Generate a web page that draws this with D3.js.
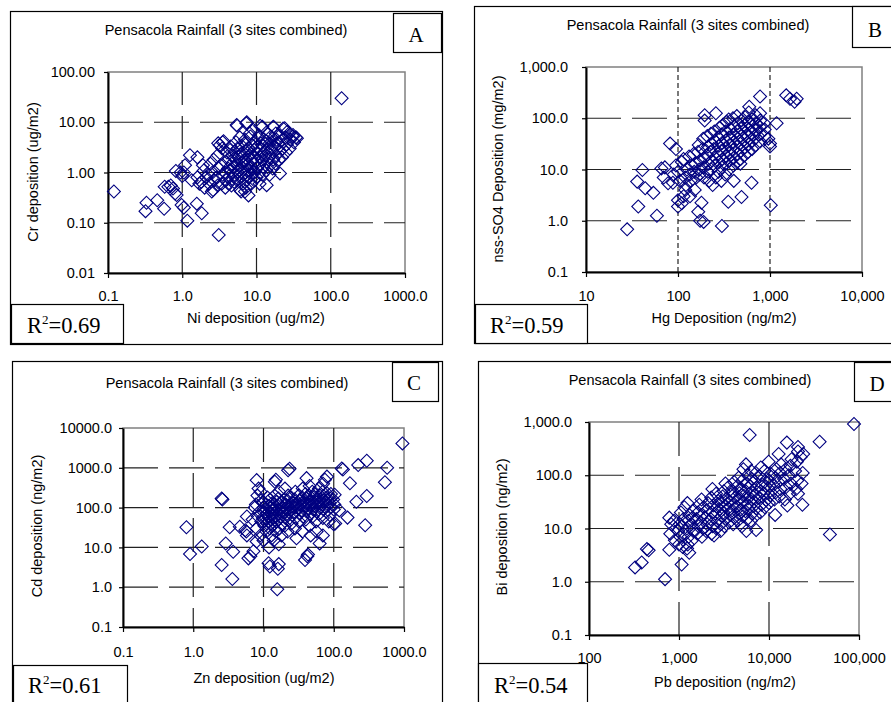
<!DOCTYPE html>
<html>
<head>
<meta charset="utf-8">
<script src="https://cdn.jsdelivr.net/npm/d3@7"></script>
<style>
  body { margin: 0; background: #fff; }
  svg { display: block; }
</style>
</head>
<body>
<svg id="chart" width="891" height="702"></svg>
<script>
// ---- Data: deposition pairs per panel, [x, y] ----
const niCr = [
  [140,30],[0.12,0.42],[0.32,0.17],[0.33,0.25],[0.46,0.28],[0.57,0.19],[1.17,0.11],[3.1,0.057],
  [1.83,0.155],[0.98,0.225],[1.05,0.2],[1.57,0.24],[0.65,0.52],[0.75,0.48],[0.84,0.355],[0.8,0.38],
  [0.82,1.07],[0.95,1.0],[1.05,1.0],[1.09,1.4],[1.27,2.2],[1.6,2.0],[1.34,0.7],[1.8,0.65],[1.9,1.4],
  [3.05,3.8],[3.5,4.0],[5.4,8.8],[7.4,10],[12,8.1],[16.8,8.1],[24,7.6],[31,5.6],[34,5.0],
  [20.7,0.96],[13.7,0.56],[7.8,0.35],[7.0,0.42],[6.2,0.42],[2.5,0.42],[0.58,0.52],[0.7,0.55],
  [1.6,0.8],[1.7,0.6],[1.0,0.85],
  [2.0,0.5],[2.1,0.8],[1.95,1.1],[2.3,0.6],[2.25,0.9],[2.4,1.5],
  [2.6,0.45],[2.7,0.7],[2.55,1.0],[2.65,1.8],[3.0,0.55],[2.9,0.8],[3.1,1.2],[3.0,2.2],[3.2,3.5],
  [3.4,0.6],[3.5,0.9],[3.3,1.4],[3.45,3.0],[3.6,4.2],[3.8,0.5],[3.9,0.7],[3.75,1.0],[3.85,1.6],[4.0,2.5],
  [4.2,0.6],[4.3,0.85],[4.15,1.2],[4.25,1.9],[4.4,2.8],[4.6,0.55],[4.7,0.75],[4.55,1.1],[4.65,1.5],[4.8,2.2],[4.5,3.3],
  [5.0,0.65],[5.1,0.9],[4.95,1.3],[5.2,1.8],[5.05,2.6],[5.3,4.0],[5.5,0.7],[5.6,1.0],[5.45,1.4],[5.7,2.0],[5.55,3.0],[5.5,8.5],
  [6.0,0.45],[6.1,0.8],[5.9,1.1],[6.2,1.6],[6.05,2.3],[6.3,3.4],[5.95,5.0],
  [6.6,0.6],[6.7,0.9],[6.5,1.25],[6.8,1.7],[6.6,2.5],[6.9,3.8],
  [7.2,0.5],[7.3,0.7],[7.1,1.0],[7.4,1.4],[7.2,1.9],[7.5,2.8],[7.0,4.5],[7.3,9.5],
  [7.8,0.8],[7.9,1.1],[7.7,1.5],[8.0,2.1],[7.8,3.1],[8.1,6.0],
  [8.5,0.6],[8.6,0.9],[8.4,1.3],[8.7,1.8],[8.5,2.4],[8.8,3.5],[8.3,5.2],
  [9.3,0.7],[9.4,1.0],[9.2,1.5],[9.5,2.0],[9.3,2.8],[9.6,4.0],[9.1,7.0],
  [10,0.8],[10.2,1.2],[9.9,1.7],[10.4,2.3],[10.1,3.2],[10.5,4.8],
  [11,0.6],[11.2,1.0],[10.9,1.4],[11.4,2.0],[11.1,2.7],[11.5,3.8],[10.8,5.5],[11.2,8.5],
  [12,0.9],[12.3,1.3],[11.8,1.8],[12.5,2.5],[12.1,3.4],[12.6,4.6],
  [13.5,1.1],[13.8,1.6],[13.2,2.2],[14,3.0],[13.6,4.2],[14.2,6.0],
  [15,0.9],[15.3,1.4],[14.8,2.0],[15.5,2.8],[15.1,3.8],[15.6,5.2],
  [16.5,1.2],[16.8,1.8],[16.2,2.6],[17,3.5],[16.6,4.8],[17,8.0],
  [18,1.5],[18.4,2.2],[17.8,3.2],[18.6,4.5],[18.2,6.0],
  [20,1.8],[20.5,2.6],[19.6,3.8],[20.8,5.5],
  [22,2.0],[22.5,3.0],[21.6,4.2],[22.8,7.5],[25,2.5],[25.5,3.6],[24.5,5.0],[26,6.5],
  [28,3.0],[28.5,4.5],[27.5,6.0],[32,4.0],[31,5.2],[35,4.8]
];

const hgSO4 = [
  [28,0.68],[37,1.9],[59,1.25],[36,5.8],[44,4.3],[54,3.5],[41,9.8],[66,10.5],[82,32],[78,5.4],
  [95,25],[100,1.9],[110,2.2],[135,3.0],[120,4.0],[166,1.5],[180,2.25],[174,1.0],[190,0.95],
  [300,0.79],[352,2.35],[490,2.9],[630,5.5],[1020,2.0],[780,265],[595,168],
  [1500,280],[1650,240],[1850,210],[1950,240],[1180,80],[1000,32],[1000,28],[960,40],[780,125],
  [195,115],[258,125],[195,90],[70,7],[72,11],[88,5.5],[100,2.5],[115,3.0],
  [90,8],[95,12],[105,6],[100,9],[110,14],[120,7],[125,10],[115,16],[122,5],
  [135,8],[140,12],[132,18],[138,6],[150,9],[155,13],[148,20],[158,7],[152,4],
  [170,10],[175,15],[165,22],[172,8],[168,30],[190,11],[195,17],[185,25],[192,7],[188,40],
  [210,9],[215,13],[205,19],[212,28],[208,45],[218,6],[230,10],[235,15],[225,22],[232,32],[228,50],[238,5],
  [250,12],[255,17],[245,25],[252,36],[248,55],[258,7],[275,9],[280,14],[270,20],[278,29],[272,42],[282,65],
  [300,11],[305,16],[295,23],[302,33],[298,48],[308,75],[296,6],
  [330,13],[335,18],[325,26],[332,37],[328,55],[338,85],[326,8],
  [360,10],[365,15],[355,21],[362,30],[358,42],[368,62],[356,95],
  [400,12],[405,17],[395,24],[402,34],[398,48],[408,70],[396,100],[404,6],
  [440,14],[445,20],[435,28],[442,40],[438,56],[448,80],[436,110],
  [480,16],[485,23],[475,32],[482,45],[478,64],[488,90],[476,13],
  [530,19],[535,27],[525,38],[532,52],[528,72],[538,105],
  [580,22],[585,31],[575,44],[582,60],[578,85],[588,130],
  [640,25],[645,36],[635,50],[642,70],[638,95],
  [700,30],[705,42],[695,58],[702,80],[698,115],
  [780,35],[785,50],[775,68],[782,90],[870,45],[875,60],[865,80]
];

const znCd = [
  [950,4100],[295,1500],[223,1170],[575,1000],[535,435],[295,195],[280,36],[210,140],[157,56],
  [170,410],[135,910],[105,40],[63,12.6],[70,20],[39,4.8],[42,6],[29.5,17],[15.7,0.89],[16,2.9],
  [16.5,3.8],[11.8,4.0],[12.3,3.3],[3.6,1.6],[2.54,3.6],[0.9,6.8],[1.32,10.5],[0.8,32],[2.54,170],
  [2.6,160],[3.3,32],[2.9,12.5],[3.7,7.8],[6.1,5.3],[6.5,6],[5.5,27],[5.7,25],[8,490],[8.5,300],
  [14.5,445],[15,500],[22.4,870],[23.5,950],[41,550],[75,500],[80,600],
  [5.8,20],[8,14],[7.2,8],[4.6,33],[7,50],[7.5,100],[5.8,60],[47,20],[43,6.6],[57,25],[85,45],
  [100,38],[120,85],[130,960],
  [8,30],[8.3,60],[7.8,120],[8.2,200],[9,20],[9.3,45],[8.8,80],[9.2,150],[9.1,250],
  [10,15],[10.3,35],[9.8,55],[10.2,75],[10.1,100],[9.9,140],
  [11,25],[11.3,40],[10.8,55],[11.2,70],[11.1,90],[10.9,120],[11.4,180],
  [12,10],[12.3,30],[11.8,45],[12.2,60],[12.1,80],[11.9,110],[12.4,160],
  [13,20],[13.3,35],[12.8,50],[13.2,65],[13.1,85],[12.9,100],[13.4,130],
  [14,15],[14.3,40],[13.8,55],[14.2,70],[14.1,90],[13.9,120],[14.4,200],
  [15,25],[15.4,45],[14.8,60],[15.2,80],[15.1,105],[15.5,140],
  [16.5,12],[16.8,30],[16.2,50],[16.6,70],[16.4,90],[16.9,120],[16.3,170],[16.7,250],
  [18,20],[18.4,40],[17.8,60],[18.2,80],[18.5,100],[17.9,130],
  [20,35],[20.5,55],[19.6,75],[20.3,95],[20.8,120],[19.8,160],[20.2,300],
  [22,25],[22.5,50],[21.6,70],[22.3,90],[22.8,110],[21.8,150],[22.4,200],
  [25,40],[25.5,65],[24.5,85],[25.3,105],[25.8,130],[24.8,180],
  [28,30],[28.6,55],[27.5,80],[28.3,100],[28.9,125],[27.8,160],[28.4,250],
  [32,45],[32.7,70],[31.4,95],[32.4,120],[33,150],[31.8,200],
  [36,25],[36.8,60],[35.3,85],[36.5,110],[37,140],[35.7,180],[36.2,300],
  [40,50],[41,80],[39.2,105],[40.6,130],[41.3,170],[39.6,220],
  [45,35],[46,70],[44,95],[45.6,120],[46.4,150],[44.6,200],[45.3,350],
  [50,60],[51,90],[49,115],[50.7,140],[51.5,180],[49.5,250],
  [56,45],[57,80],[55,110],[56.7,135],[57.5,165],[55.5,220],
  [62,70],[63,100],[61,130],[62.8,160],[63.5,200],[61.5,300],
  [70,55],[71.5,90],[69,120],[70.8,150],[72,190],[69.5,250],[70.5,400],
  [78,80],[79.5,110],[77,140],[79,180],[80,230],
  [88,65],[90,100],[87,130],[89,170],[91,220],
  [100,90],[102,120],[98,160],[103,210]
];

const pbBi = [
  [88000,920],[6100,570],[36500,425],[15800,410],[21000,340],[47500,7.7],[23500,28],[21000,45],
  [16000,27],[11700,18],[7200,9.4],[700,1.12],[325,1.86],[385,2.3],[440,4.1],[460,3.9],[1070,2.1],
  [780,4.0],[1230,4.2],[1300,3.5],[2450,7.4],[2900,9],
  [800,8],[820,12],[780,16],[900,6],[920,10],[880,14],
  [1000,5],[1030,7],[980,9],[1020,12],[1050,20],[1100,4.5],[1130,8],[1080,11],[1120,15],[1150,25],
  [1250,5],[1280,7],[1220,10],[1270,14],[1300,18],[1240,30],[1400,6],[1440,9],[1370,12],[1420,16],[1460,22],
  [1600,8],[1650,11],[1560,15],[1630,20],[1680,28],[1800,7],[1850,10],[1760,13],[1830,18],[1880,25],[1780,35],
  [2000,9],[2060,12],[1950,16],[2040,22],[2100,30],
  [2300,8],[2370,11],[2250,15],[2340,20],[2400,27],[2280,38],[2350,55],
  [2600,10],[2680,14],[2540,19],[2650,25],[2720,33],[2580,45],
  [2900,12],[2990,17],[2830,23],[2960,30],[3050,40],
  [3200,11],[3300,15],[3120,20],[3260,27],[3350,36],[3150,50],[3280,70],
  [3600,13],[3700,18],[3520,24],[3660,32],[3760,43],[3550,60],
  [4000,12],[4120,16],[3900,22],[4080,29],[4200,38],[3950,50],[4100,75],
  [4500,14],[4630,19],[4400,26],[4580,35],[4700,46],[4450,62],[4600,90],
  [5000,11],[5150,17],[4880,23],[5100,31],[5250,41],[4950,55],[5080,80],[5200,130],
  [5600,9],[5750,15],[5480,21],[5700,28],[5850,37],[5520,50],[5680,70],[5800,100],[5550,160],
  [6300,14],[6480,19],[6150,26],[6400,35],[6600,46],[6200,62],[6450,85],[6350,120],
  [7000,17],[7200,24],[6850,32],[7100,43],[7300,58],[6900,78],[7150,110],
  [8000,20],[8250,28],[7800,38],[8150,50],[8400,68],[7900,95],[8100,140],
  [9000,25],[9300,34],[8800,46],[9200,62],[9500,85],[8900,120],
  [10000,30],[10300,42],[9800,57],[10200,78],[10500,105],[9900,180],
  [11500,35],[11900,48],[11200,65],[11800,90],[12100,130],
  [13000,40],[13400,55],[12700,75],[13300,110],[13600,160],[12800,250],
  [15000,35],[15500,60],[14700,85],[15300,130],
  [17000,45],[17500,70],[16600,100],[17300,150],[17800,200],
  [20000,55],[20600,80],[19500,120],[20400,180],[21000,280],
  [23000,70],[23700,110],[22500,220],[24000,250]
];

// ---- Labels and ticks ----
const chartTitle = "Pensacola Rainfall (3 sites combined)";
const panelLetters = ["A", "B", "C", "D"];
const rSquared = [0.69, 0.59, 0.61, 0.54];
const xTitles = ["Ni deposition (ug/m2)", "Hg Deposition (ng/m2)", "Zn deposition (ug/m2)", "Pb deposition (ng/m2)"];
const yTitles = ["Cr deposition (ug/m2)", "nss-SO4 Deposition (mg/m2)", "Cd deposition (ng/m2)", "Bi deposition (ng/m2)"];
const xTicksA = [0.1, 1, 10, 100, 1000];
const yTicksA = [0.01, 0.1, 1, 10, 100];
const xTicksB = [10, 100, 1000, 10000];
const yTicksB = [0.1, 1, 10, 100, 1000];
const xTicksC = [0.1, 1, 10, 100, 1000];
const yTicksC = [0.1, 1, 10, 100, 1000, 10000];
const xTicksD = [100, 1000, 10000, 100000];
const yTicksD = [0.1, 1, 10, 100, 1000];

// ---- Panel geometry ----
const panels = [
  { data: niCr, xTicks: xTicksA, yTicks: yTicksA, xFmt: d3.format(".1f"), yFmt: d3.format(".2f"),
    frame: [10, 11, 442, 344], plot: [108, 72, 405, 273], title: [226, 35],
    letterBox: [393, 13, 441, 52], letterPos: [416, 42], r2Box: [11, 304, 123, 343], r2Pos: [27, 333],
    yTitle: [33, 172], xTitle: [256, 323], yPad: 9, xPad: 12.5, vDash: "33,11" },
  { data: hgSO4, xTicks: xTicksB, yTicks: yTicksB, xFmt: d3.format(","), yFmt: d3.format(",.1f"),
    frame: [474, 6, 905, 343], plot: [586, 67, 862, 272], title: [688, 30],
    letterBox: [852, 6, 905, 47], letterPos: [875, 37], r2Box: [475, 304, 587, 343], r2Pos: [490, 333],
    yTitle: [498, 169], xTitle: [724, 323], yPad: 14, xPad: 13.5, vDash: "5,3" },
  { data: znCd, xTicks: xTicksC, yTicks: yTicksC, xFmt: d3.format(".1f"), yFmt: d3.format(".1f"),
    frame: [12, 361, 442, 715], plot: [123, 428, 404, 627], title: [227, 388],
    letterBox: [392, 362, 438, 401], letterPos: [414, 390], r2Box: [13, 665, 127, 715], r2Pos: [28, 693],
    yTitle: [37, 526], xTitle: [264, 683], yPad: 7, xPad: 14.5, vDash: "34,11" },
  { data: pbBi, xTicks: xTicksD, yTicks: yTicksD, xFmt: d3.format(","), yFmt: d3.format(",.1f"),
    frame: [478, 361, 905, 715], plot: [589, 422, 859, 635], title: [690, 385],
    letterBox: [854, 362, 905, 401], letterPos: [877, 391], r2Box: [478, 663, 587, 715], r2Pos: [494, 693],
    yTitle: [502, 527], xTitle: [725, 687], yPad: 13, xPad: 12.5, vDash: "34,11" }
];

const sansFont = "'Liberation Sans', Arial, sans-serif";
const serifFont = "'Liberation Serif', 'Times New Roman', serif";
const markerColor = "#000080";
const diamond = d3.symbol(d3.symbolSquare, 84);

const svg = d3.select("#chart");

panels.forEach((p, i) => {
  const [fx0, fy0, fx1, fy1] = p.frame;
  const [px0, py0, px1, py1] = p.plot;
  const g = svg.append("g");

  // outer frame
  g.append("rect")
    .attr("x", fx0 + 0.5).attr("y", fy0 + 0.5)
    .attr("width", fx1 - fx0).attr("height", fy1 - fy0)
    .attr("fill", "#fff").attr("stroke", "#000").attr("stroke-width", 1.2);

  const x = d3.scaleLog().domain(d3.extent(p.xTicks)).range([px0, px1]);
  const y = d3.scaleLog().domain(d3.extent(p.yTicks)).range([py1, py0]);

  // plot area border (top/right)
  g.append("rect")
    .attr("x", px0).attr("y", py0)
    .attr("width", px1 - px0).attr("height", py1 - py0)
    .attr("fill", "none").attr("stroke", "#808080").attr("stroke-width", 1.5);

  // dashed gridlines
  const innerY = p.yTicks.slice(1, -1);
  const innerX = p.xTicks.slice(1, -1);
  g.append("g").selectAll("line").data(innerY).join("line")
    .attr("x1", px0).attr("x2", px1)
    .attr("y1", d => y(d)).attr("y2", d => y(d))
    .attr("stroke", "#222").attr("stroke-width", 1.2)
    .attr("stroke-dasharray", "35,11");
  g.append("g").selectAll("line").data(innerX).join("line")
    .attr("x1", d => x(d)).attr("x2", d => x(d))
    .attr("y1", py0).attr("y2", py1)
    .attr("stroke", "#222").attr("stroke-width", 1.2)
    .attr("stroke-dasharray", p.vDash);

  // axes
  const yAxis = d3.axisLeft(y).tickValues(p.yTicks).tickFormat(p.yFmt)
    .tickSize(4).tickSizeOuter(0).tickPadding(p.yPad);
  const xAxis = d3.axisBottom(x).tickValues(p.xTicks).tickFormat(p.xFmt)
    .tickSize(5).tickSizeOuter(0).tickPadding(p.xPad);
  const ya = g.append("g").attr("transform", `translate(${px0},0)`).call(yAxis);
  const xa = g.append("g").attr("transform", `translate(0,${py1})`).call(xAxis);
  [ya, xa].forEach(a => {
    a.select(".domain").attr("stroke", "#000").attr("stroke-width", 2);
    a.selectAll(".tick line").attr("stroke", "#000").attr("stroke-width", 1.2);
    a.selectAll(".tick text").attr("fill", "#000")
      .style("font-family", sansFont).style("font-size", "14.5px");
  });

  // data points (open diamonds)
  g.append("g").selectAll("path").data(p.data).join("path")
    .attr("d", diamond)
    .attr("transform", d => `translate(${x(d[0])},${y(d[1])}) rotate(45)`)
    .attr("fill", "none").attr("stroke", markerColor).attr("stroke-width", 1.1);

  // chart title
  g.append("text")
    .attr("x", p.title[0]).attr("y", p.title[1])
    .attr("text-anchor", "middle")
    .style("font-family", sansFont).style("font-size", "14.5px")
    .text(chartTitle);

  // axis titles
  g.append("text")
    .attr("transform", `translate(${p.yTitle[0]},${p.yTitle[1]}) rotate(-90)`)
    .attr("text-anchor", "middle").attr("dy", "0.35em")
    .style("font-family", sansFont).style("font-size", "14.5px")
    .text(yTitles[i]);
  g.append("text")
    .attr("x", p.xTitle[0]).attr("y", p.xTitle[1])
    .attr("text-anchor", "middle")
    .style("font-family", sansFont).style("font-size", "14.5px")
    .text(xTitles[i]);

  // panel letter box
  const [lx0, ly0, lx1, ly1] = p.letterBox;
  g.append("rect")
    .attr("x", lx0 + 0.5).attr("y", ly0 + 0.5)
    .attr("width", lx1 - lx0).attr("height", ly1 - ly0)
    .attr("fill", "#fff").attr("stroke", "#000").attr("stroke-width", 1.2);
  g.append("text")
    .attr("x", p.letterPos[0]).attr("y", p.letterPos[1])
    .attr("text-anchor", "middle")
    .style("font-family", serifFont).style("font-size", "21px")
    .text(panelLetters[i]);

  // R-squared box
  const [rx0, ry0, rx1, ry1] = p.r2Box;
  g.append("rect")
    .attr("x", rx0 + 0.5).attr("y", ry0 + 0.5)
    .attr("width", rx1 - rx0).attr("height", ry1 - ry0)
    .attr("fill", "#fff").attr("stroke", "#000").attr("stroke-width", 1.2);
  const rt = g.append("text")
    .attr("x", p.r2Pos[0]).attr("y", p.r2Pos[1])
    .style("font-family", serifFont).style("font-size", "22.5px");
  rt.append("tspan").text("R");
  rt.append("tspan").attr("dy", -9).style("font-size", "13px").text("2");
  rt.append("tspan").attr("dy", 9).text("=" + d3.format(".2f")(rSquared[i]));
});
</script>
</body>
</html>
